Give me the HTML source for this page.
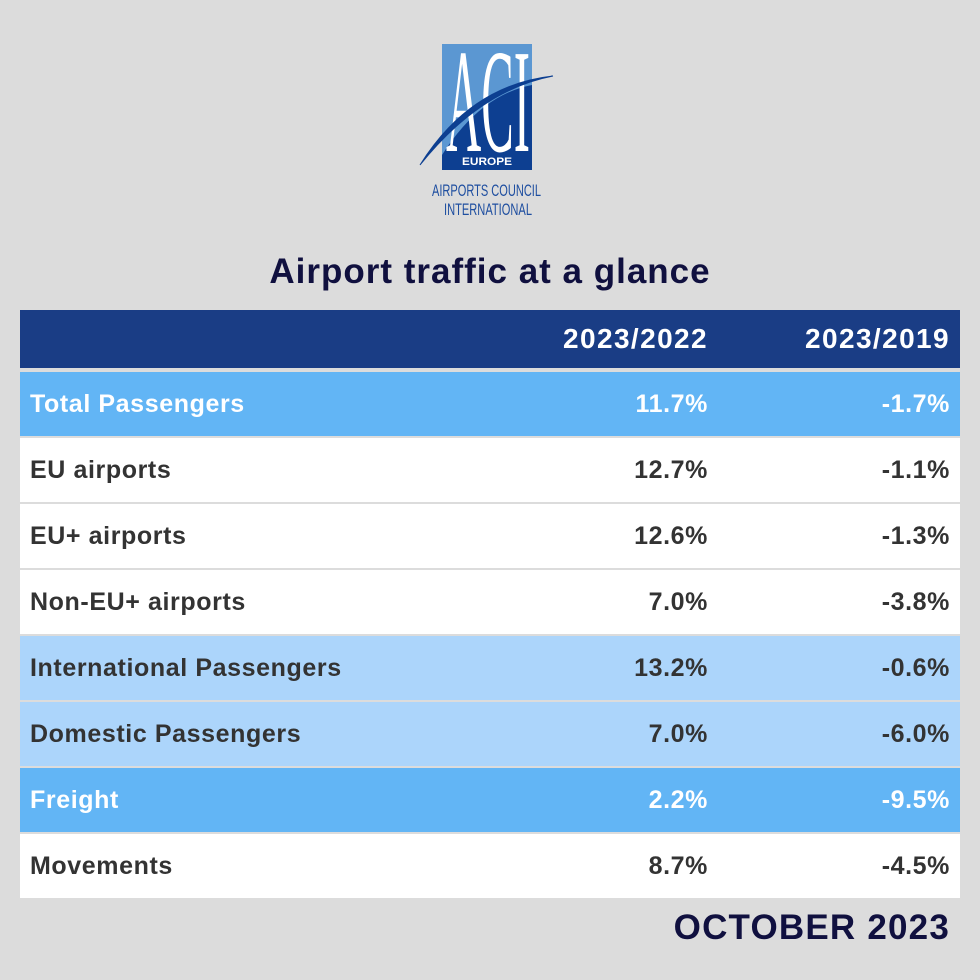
<!DOCTYPE html>
<html><head><meta charset="utf-8"><style>
body{margin:0;width:980px;height:980px;background:#dcdcdc;font-family:"Liberation Sans",sans-serif;position:relative;overflow:hidden}
#logo{position:absolute;left:410px;top:35px}
#title{position:absolute;top:252px;left:0;width:980px;text-align:center;font-size:35px;letter-spacing:1px;font-weight:bold;color:#10103f}
table{position:absolute;left:20px;top:310px;width:940px;border-collapse:collapse;table-layout:fixed}
td,th{height:64px;padding:0 10px;font-size:25px;letter-spacing:0.6px;font-weight:bold;color:#333;border-bottom:2px solid #dcdcdc;white-space:nowrap}
th{height:58px;background:#1a3d85;color:#fff;font-size:28px;letter-spacing:1.4px;text-align:right;border-bottom:4px solid #dcdcdc}
td.v{text-align:right}
tr.hi td{background:#62b5f5;color:#fff}
tr.mid td{background:#acd5fb}
tr.w td{background:#fff}
#date{position:absolute;right:30px;top:908px;font-size:35px;letter-spacing:1.2px;font-weight:bold;color:#10103f}
</style></head><body>
<svg id="logo" width="160" height="190" viewBox="0 0 160 190">
<rect x="32" y="9" width="90" height="126" fill="#0d3f91"/>
<path d="M32 9 H122 V50 Q70 60 32 120 Z" fill="#5b97d2"/>
<text x="36" y="116" font-family="Liberation Serif,serif" font-size="148" fill="#fff" textLength="84" lengthAdjust="spacingAndGlyphs">ACI</text>
<path d="M10 130 Q60 50 143 41 Q70 55 10 130 Z" fill="#0d3f91" stroke="#0d3f91" stroke-width="1"/>
<text x="77" y="130" text-anchor="middle" font-size="11" font-weight="bold" fill="#fff" textLength="50" lengthAdjust="spacingAndGlyphs">EUROPE</text>
<text x="22" y="161" font-size="17" fill="#1e4ea0" textLength="109" lengthAdjust="spacingAndGlyphs">AIRPORTS COUNCIL</text>
<text x="34" y="180" font-size="17" fill="#1e4ea0" textLength="88" lengthAdjust="spacingAndGlyphs">INTERNATIONAL</text>
</svg>
<div id="title">Airport traffic at a glance</div>
<table>
<colgroup><col style="width:470px"><col style="width:228px"><col style="width:242px"></colgroup>
<tr><th></th><th>2023/2022</th><th>2023/2019</th></tr>
<tr class="hi"><td>Total Passengers</td><td class="v">11.7%</td><td class="v">-1.7%</td></tr>
<tr class="w"><td>EU airports</td><td class="v">12.7%</td><td class="v">-1.1%</td></tr>
<tr class="w"><td>EU+ airports</td><td class="v">12.6%</td><td class="v">-1.3%</td></tr>
<tr class="w"><td>Non-EU+ airports</td><td class="v">7.0%</td><td class="v">-3.8%</td></tr>
<tr class="mid"><td>International Passengers</td><td class="v">13.2%</td><td class="v">-0.6%</td></tr>
<tr class="mid"><td>Domestic Passengers</td><td class="v">7.0%</td><td class="v">-6.0%</td></tr>
<tr class="hi"><td>Freight</td><td class="v">2.2%</td><td class="v">-9.5%</td></tr>
<tr class="w"><td>Movements</td><td class="v">8.7%</td><td class="v">-4.5%</td></tr>
</table>
<div id="date">OCTOBER 2023</div>
</body></html>
